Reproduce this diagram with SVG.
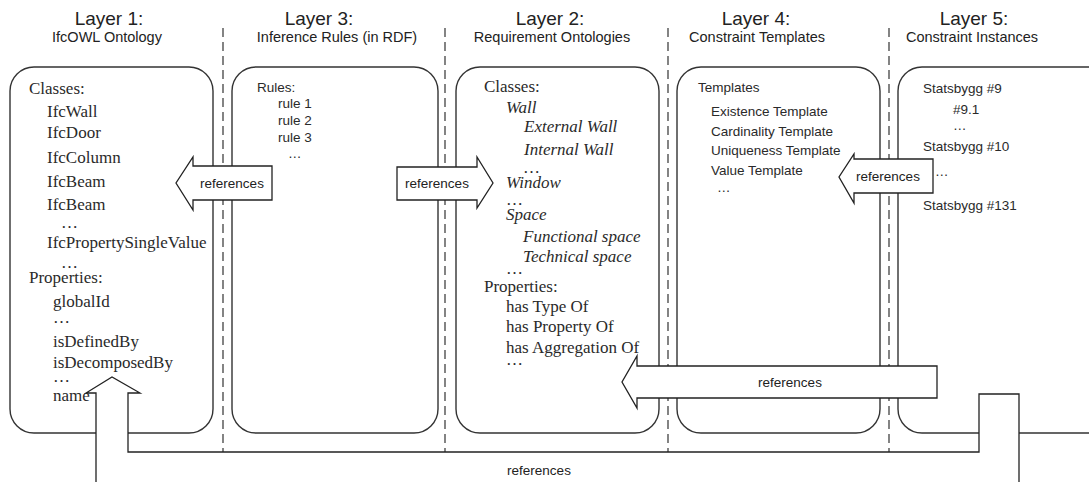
<svg xmlns="http://www.w3.org/2000/svg" width="1089" height="482" viewBox="0 0 1089 482">
  <style>
    .hd { font-family: "Liberation Sans", Arial, sans-serif; font-size: 19px; fill: #222; text-anchor: middle; }
    .sub { font-family: "Liberation Sans", Arial, sans-serif; font-size: 14.5px; fill: #222; text-anchor: middle; }
    .box { fill: #fff; stroke: #333; stroke-width: 1.4; }
    .sep { stroke: #333; stroke-width: 1.2; stroke-dasharray: 9 5; fill: none; }
    .serif { font-family: "Liberation Serif", "Times New Roman", serif; font-size: 17px; fill: #2a2a2a; }
    .it { font-style: italic; }
    .sans { font-family: "Liberation Sans", Arial, sans-serif; font-size: 13.5px; fill: #2a2a2a; }
    .arrow { fill: #fff; stroke: #222; stroke-width: 1.3; stroke-linejoin: miter; }
    .lbl { font-family: "Liberation Sans", Arial, sans-serif; font-size: 13.5px; fill: #222; text-anchor: middle; }
  </style>

  <!-- column separators -->
  <g id="separators">
    <line class="sep" x1="223" y1="28" x2="223" y2="482"/>
    <line class="sep" x1="445" y1="28" x2="445" y2="482"/>
    <line class="sep" x1="668" y1="28" x2="668" y2="482"/>
    <line class="sep" x1="889" y1="28" x2="889" y2="482"/>
  </g>

  <!-- column headings -->
  <g id="headings">
    <text class="hd" x="109" y="25">Layer 1:</text>
    <text class="sub" x="107" y="42">IfcOWL Ontology</text>
    <text class="hd" x="319" y="25">Layer 3:</text>
    <text class="sub" x="337" y="42">Inference Rules (in RDF)</text>
    <text class="hd" x="550" y="25">Layer 2:</text>
    <text class="sub" x="552" y="42">Requirement Ontologies</text>
    <text class="hd" x="756" y="25">Layer 4:</text>
    <text class="sub" x="757" y="42">Constraint Templates</text>
    <text class="hd" x="974" y="25">Layer 5:</text>
    <text class="sub" x="972" y="42">Constraint Instances</text>
  </g>

  <!-- Layer 1 -->
  <g id="layer1">
    <rect class="box" x="10" y="67" width="203" height="366" rx="24" ry="24"/>
    <text class="serif" x="29" y="94">Classes:</text>
    <text class="serif" x="47" y="117">IfcWall</text>
    <text class="serif" x="47" y="138">IfcDoor</text>
    <text class="serif" x="47" y="163">IfcColumn</text>
    <text class="serif" x="47" y="187">IfcBeam</text>
    <text class="serif" x="47" y="210">IfcBeam</text>
    <text class="serif" x="61" y="228">…</text>
    <text class="serif" x="47" y="248">IfcPropertySingleValue</text>
    <text class="serif" x="61" y="268">…</text>
    <text class="serif" x="29" y="283">Properties:</text>
    <text class="serif" x="53" y="307">globalId</text>
    <text class="serif" x="53" y="323">…</text>
    <text class="serif" x="53" y="347">isDefinedBy</text>
    <text class="serif" x="53" y="368">isDecomposedBy</text>
    <text class="serif" x="53" y="382">…</text>
    <text class="serif" x="53" y="401">name</text>
  </g>

  <!-- Layer 3 -->
  <g id="layer3">
    <rect class="box" x="232" y="67" width="206" height="366" rx="24" ry="24"/>
    <text class="sans" x="257" y="92">Rules:</text>
    <text class="sans" x="278" y="108">rule 1</text>
    <text class="sans" x="278" y="125">rule 2</text>
    <text class="sans" x="278" y="142">rule 3</text>
    <text class="sans" x="288" y="158">…</text>
  </g>

  <!-- Layer 2 -->
  <g id="layer2">
    <rect class="box" x="456" y="67" width="203" height="366" rx="24" ry="24"/>
    <text class="serif" x="484" y="92">Classes:</text>
    <text class="serif it" x="506" y="113">Wall</text>
    <text class="serif it" x="524" y="132">External Wall</text>
    <text class="serif it" x="524" y="155">Internal Wall</text>
    <text class="serif" x="523" y="173">…</text>
    <text class="serif it" x="506" y="188">Window</text>
    <text class="serif" x="506" y="205">…</text>
    <text class="serif it" x="506" y="220">Space</text>
    <text class="serif it" x="523" y="242">Functional space</text>
    <text class="serif it" x="523" y="262">Technical space</text>
    <text class="serif" x="506" y="274">…</text>
    <text class="serif" x="484" y="292">Properties:</text>
    <text class="serif" x="506" y="312">has Type Of</text>
    <text class="serif" x="506" y="332">has Property Of</text>
    <text class="serif" x="506" y="353">has Aggregation Of</text>
    <text class="serif" x="506" y="365">…</text>
  </g>

  <!-- Layer 4 -->
  <g id="layer4">
    <rect class="box" x="677" y="67" width="203" height="366" rx="24" ry="24"/>
    <text class="sans" x="698" y="92">Templates</text>
    <text class="sans" x="711" y="116">Existence Template</text>
    <text class="sans" x="711" y="136">Cardinality Template</text>
    <text class="sans" x="711" y="155">Uniqueness Template</text>
    <text class="sans" x="711" y="175">Value Template</text>
    <text class="sans" x="717" y="192">…</text>
  </g>

  <!-- Layer 5 -->
  <g id="layer5">
    <rect class="box" x="898" y="67" width="214" height="366" rx="24" ry="24"/>
    <text class="sans" x="923" y="93">Statsbygg #9</text>
    <text class="sans" x="953" y="114">#9.1</text>
    <text class="sans" x="953" y="130">…</text>
    <text class="sans" x="923" y="151">Statsbygg #10</text>
    <text class="sans" x="935" y="176">…</text>
    <text class="sans" x="923" y="210">Statsbygg #131</text>
  </g>

  <!-- block arrows -->
  <g id="connectors">
    <polygon class="arrow" points="272,166 193,166 193,157 176,183 193,210 193,200 272,200"/>
    <text class="lbl" x="232" y="188">references</text>

    <polygon class="arrow" points="397,167 477,167 477,157 493,183 477,208 477,200 397,200"/>
    <text class="lbl" x="437" y="188">references</text>

    <polygon class="arrow" points="933,159 854,159 854,154 839,177 854,203 854,193 933,193"/>
    <text class="lbl" x="888" y="181">references</text>

    <polygon class="arrow" points="937,366 637,366 637,356 622,382 637,408 637,398 937,398"/>
    <text class="lbl" x="790" y="387">references</text>

    <polygon class="arrow" points="1019,394 979,394 979,452 128,452 128,393 140,393 112,377 86,393 96,393 96,495 1019,495"/>
    <text class="lbl" x="539" y="475">references</text>
  </g>
</svg>
